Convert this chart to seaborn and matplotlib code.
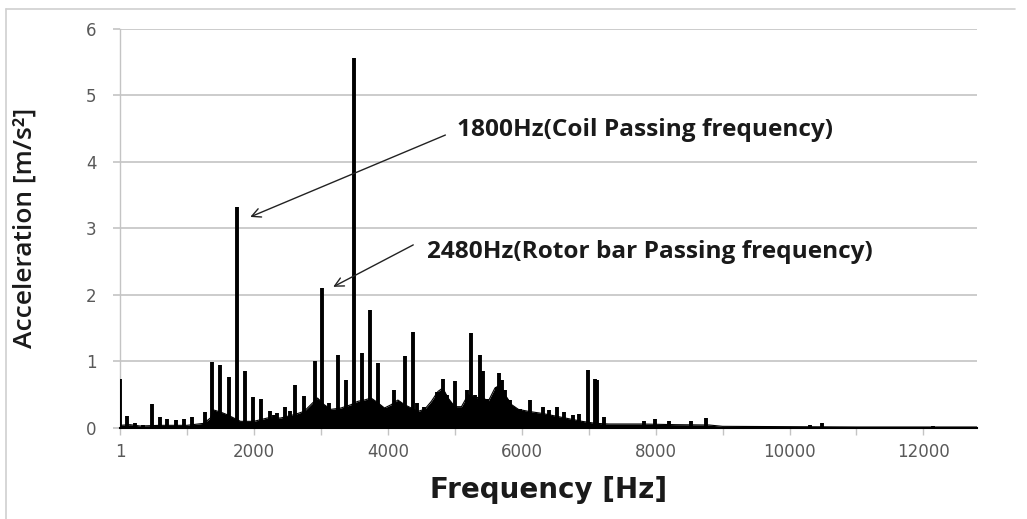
import numpy as np
import pandas as pd
import matplotlib
matplotlib.use("Agg")
import matplotlib.pyplot as plt
import seaborn as sns

# ---------------- data ----------------
peak_freq = [1, 109, 224, 349, 474, 598, 708, 837, 957, 1072, 1271, 1380, 1495, 1630,
             1745, 1869, 1993, 2108, 2242, 2300, 2352, 2467, 2540, 2616, 2741, 2850, 2915, 3024,
             3129, 3259, 3379, 3488, 3613, 3727, 3847, 3962, 4096, 4161, 4261, 4376,
             4435, 4535, 4635, 4735, 4819, 4884, 5008, 5108, 5183, 5243, 5307, 5372,
             5417, 5482, 5557, 5632, 5666, 5706, 5756, 5831, 5905, 5980, 6119, 6204,
             6313, 6403, 6529, 6628, 6762, 6862, 6992, 7101, 7127, 7226, 7823, 7998,
             8197, 8522, 8746, 10300, 10480, 12150]
peak_amp = [0.74, 0.18, 0.07, 0.05, 0.36, 0.16, 0.14, 0.12, 0.13, 0.16, 0.24, 0.99, 0.94, 0.77,
            3.32, 0.85, 0.47, 0.44, 0.25, 0.20, 0.22, 0.32, 0.26, 0.64, 0.48, 0.30, 1.00, 2.10,
            0.37, 1.10, 0.72, 5.55, 1.13, 1.77, 0.98, 0.30, 0.57, 0.39, 1.08, 1.44,
            0.38, 0.31, 0.26, 0.54, 0.74, 0.49, 0.71, 0.27, 0.57, 1.43, 0.49, 1.09,
            0.86, 0.44, 0.37, 0.62, 0.83, 0.72, 0.57, 0.42, 0.29, 0.28, 0.42, 0.22,
            0.32, 0.27, 0.31, 0.24, 0.19, 0.21, 0.87, 0.73, 0.72, 0.16, 0.10, 0.13,
            0.10, 0.10, 0.15, 0.04, 0.07, 0.03]

floor_freq = [0, 150, 300, 600, 1000, 1250, 1350, 1400, 1500, 1600, 1700, 1800, 2000,
              2200, 2400, 2600, 2750, 2850, 2950, 3050, 3150, 3300, 3450, 3550, 3650,
              3750, 3850, 3950, 4050, 4150, 4250, 4350, 4450, 4550, 4650, 4750, 4820,
              4900, 5000, 5100, 5200, 5300, 5400, 5500, 5600, 5680, 5750, 5850, 5950,
              6100, 6300, 6500, 6700, 6900, 7100, 7300, 7800, 8300, 8800, 9000, 10000,
              11000, 12800]
floor_amp = [0.04, 0.05, 0.03, 0.04, 0.04, 0.07, 0.15, 0.27, 0.24, 0.20, 0.15, 0.10, 0.10,
             0.15, 0.15, 0.20, 0.25, 0.35, 0.45, 0.35, 0.28, 0.30, 0.35, 0.40, 0.42,
             0.45, 0.38, 0.30, 0.35, 0.42, 0.35, 0.30, 0.25, 0.28, 0.40, 0.55, 0.60,
             0.45, 0.32, 0.32, 0.50, 0.45, 0.47, 0.40, 0.60, 0.65, 0.50, 0.35, 0.28,
             0.25, 0.22, 0.18, 0.14, 0.10, 0.07, 0.06, 0.06, 0.05, 0.045, 0.025, 0.02,
             0.015, 0.015]

x_ticks = [1, 1000, 2000, 3000, 4000, 5000, 6000, 7000, 8000, 9000, 10000, 11000, 12000]
x_tick_labels = ["1", "", "2000", "", "4000", "", "6000", "", "8000", "", "10000", "", "12000"]
y_ticks = [0, 1, 2, 3, 4, 5, 6]

coil_label = "1800Hz(Coil Passing frequency)"
rotor_label = "2480Hz(Rotor bar Passing frequency)"
coil_idx = peak_freq.index(1745)
rotor_idx = peak_freq.index(3024)

# ---------------- figure ----------------
sns.set_theme(style="white")
plt.rcParams["font.family"] = ["Open Sans", "DejaVu Sans"]

W, H = 1027, 519
fig = plt.figure(figsize=(W / 100, H / 100), dpi=100)
ax = fig.add_axes([120 / W, 1 - 428 / H, 857 / W, 399.5 / H])

floor_df = pd.DataFrame({"freq": floor_freq, "amp": floor_amp})
ax.fill_between(floor_df["freq"], 0, floor_df["amp"], color="black", lw=0, zorder=3)
sns.lineplot(data=floor_df, x="freq", y="amp", ax=ax, color="black", lw=0.8, zorder=3)
ax.vlines(peak_freq, 0, peak_amp, color="black", lw=2.8, zorder=4)

ax.set_xlim(0, 12800)
ax.set_ylim(0, 6)
ax.set_xticks(x_ticks)
ax.set_xticklabels(x_tick_labels)
ax.set_yticks(y_ticks)
ax.set_yticklabels([str(v) for v in y_ticks])
for lab in ax.get_xticklabels() + ax.get_yticklabels():
    lab.set_family(["DejaVu Sans"])

ax.yaxis.grid(True, color="#c4c4c4", lw=1.2)
ax.xaxis.grid(False)
ax.set_axisbelow(True)
for s in ["top", "right"]:
    ax.spines[s].set_visible(False)
ax.spines["left"].set_color("#c4c4c4")
ax.spines["left"].set_linewidth(1.0)
ax.spines["bottom"].set_color("black")
ax.spines["bottom"].set_linewidth(1.5)
ax.spines["bottom"].set_zorder(5)

ax.tick_params(axis="x", direction="out", length=5, width=1, color="#c4c4c4",
               labelcolor="#595959", labelsize=12, pad=6, bottom=True)
ax.tick_params(axis="y", direction="out", length=5, width=1.2, color="#c4c4c4",
               labelcolor="#595959", labelsize=12, pad=12, left=True)

ax.set_xlabel("Frequency [Hz]", fontsize=20, fontweight="bold", color="#1a1a1a",
              family=["DejaVu Sans"])
ax.xaxis.set_label_coords(0.5, -0.12)
ax.set_ylabel("Acceleration [m/s²]", fontsize=19, color="#1a1a1a", fontweight="semibold")
ax.yaxis.set_label_coords(-0.096, 0.5)

# annotations
ax.annotate("", xy=(peak_freq[coil_idx] + 200, peak_amp[coil_idx] - 0.15),
            xytext=(4860, 4.40),
            arrowprops=dict(arrowstyle="->", lw=1.0, color="#222222",
                            mutation_scale=16, shrinkA=0, shrinkB=0), zorder=6)
ax.text(5040, 4.47, coil_label, fontsize=17.6, fontweight="bold", color="#1a1a1a",
        ha="left", va="center", zorder=6)

ax.annotate("", xy=(peak_freq[rotor_idx] + 160, peak_amp[rotor_idx] + 0.02),
            xytext=(4380, 2.75),
            arrowprops=dict(arrowstyle="->", lw=1.0, color="#222222",
                            mutation_scale=16, shrinkA=0, shrinkB=0), zorder=6)
ax.text(4590, 2.64, rotor_label, fontsize=17.6, fontweight="bold", color="#1a1a1a",
        ha="left", va="center", zorder=6)

# outer chart frame (top + left edges visible in the reference)
fig.add_artist(plt.Line2D([6 / W, 1015 / W], [1 - 9 / H, 1 - 9 / H],
                          transform=fig.transFigure, color="#d0d0d0", lw=1.2))
fig.add_artist(plt.Line2D([6 / W, 6 / W], [0, 1 - 9 / H],
                          transform=fig.transFigure, color="#d0d0d0", lw=1.2))

fig.savefig("out.png", dpi=100, facecolor="white")
